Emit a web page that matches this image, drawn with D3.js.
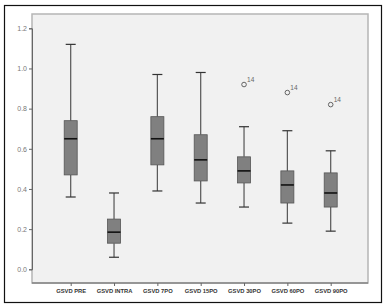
<!DOCTYPE html>
<html><head><meta charset="utf-8">
<script src="https://cdn.jsdelivr.net/npm/d3@7"></script>
<style>body{margin:0;background:#fff}svg{display:block}</style>
</head><body>
<script>
const categories = ["GSVD PRE","GSVD INTRA","GSVD 7PO","GSVD 15PO","GSVD 30PO","GSVD 60PO","GSVD 90PO"];
const whiskerMax = [1.12,0.38,0.97,0.98,0.71,0.69,0.59];
const q3 = [0.74,0.25,0.76,0.67,0.56,0.49,0.48];
const median = [0.65,0.185,0.65,0.545,0.49,0.42,0.38];
const q1 = [0.47,0.13,0.52,0.44,0.43,0.33,0.31];
const whiskerMin = [0.36,0.06,0.39,0.33,0.31,0.23,0.19];
const outliers = [{cat:"GSVD 30PO",v:0.92,label:"14"},{cat:"GSVD 60PO",v:0.88,label:"14"},{cat:"GSVD 90PO",v:0.82,label:"14"}];
const yTicks = [0,0.2,0.4,0.6,0.8,1.0,1.2];

const W=384,H=308;
const svg=d3.select("body").append("svg").attr("width",W).attr("height",H);
svg.append("rect").attr("x",4.5).attr("y",5.5).attr("width",377).attr("height",297).attr("fill","#fff").attr("stroke","#111").attr("stroke-width",1.2);
const L=32,T=14,R=368,B=283;
svg.append("rect").attr("x",L).attr("y",T).attr("width",R-L).attr("height",B-T).attr("fill","#f1f1f1").attr("stroke","#b5b5b5").attr("stroke-width",1.5);
const y=d3.scaleLinear().domain([0,1.2]).range([269.3,28.3]);
const x=d3.scalePoint().domain(categories).range([70.7,330.7]);

const yAxis=svg.append("g").attr("transform",`translate(${L},0)`)
  .call(d3.axisLeft(y).tickValues(yTicks).tickFormat(d3.format(".1f")).tickSize(3).tickPadding(2));
yAxis.select(".domain").attr("stroke","#666");
yAxis.selectAll(".tick line").attr("stroke","#666");
yAxis.selectAll("text").attr("fill","#777").style("font-family","Liberation Sans, Arial, sans-serif").style("font-size","7px");

const xAxis=svg.append("g").attr("transform",`translate(0,${B})`)
  .call(d3.axisBottom(x).tickSize(3).tickPadding(3));
xAxis.select(".domain").attr("stroke","#666").attr("d",`M${L},0H${R}`);
xAxis.selectAll(".tick line").attr("stroke","#666");
xAxis.selectAll("text").attr("fill","#333").style("font-family","Liberation Sans, Arial, sans-serif").style("font-size","5.8px").style("font-weight","bold");

const bw=13, cw=10;
const g=svg.append("g");
categories.forEach((c,i)=>{
  const cx=x(c);
  g.append("line").attr("x1",cx).attr("x2",cx).attr("y1",y(whiskerMax[i])).attr("y2",y(q3[i])).attr("stroke","#555").attr("stroke-width",1.2);
  g.append("line").attr("x1",cx).attr("x2",cx).attr("y1",y(q1[i])).attr("y2",y(whiskerMin[i])).attr("stroke","#555").attr("stroke-width",1.2);
  g.append("line").attr("x1",cx-cw/2).attr("x2",cx+cw/2).attr("y1",y(whiskerMax[i])).attr("y2",y(whiskerMax[i])).attr("stroke","#333").attr("stroke-width",1.2);
  g.append("line").attr("x1",cx-cw/2).attr("x2",cx+cw/2).attr("y1",y(whiskerMin[i])).attr("y2",y(whiskerMin[i])).attr("stroke","#333").attr("stroke-width",1.2);
  g.append("rect").attr("x",cx-bw/2).attr("y",y(q3[i])).attr("width",bw).attr("height",y(q1[i])-y(q3[i])).attr("fill","#808080").attr("stroke","#555").attr("stroke-width",0.8);
  g.append("line").attr("x1",cx-bw/2).attr("x2",cx+bw/2).attr("y1",y(median[i])).attr("y2",y(median[i])).attr("stroke","#111").attr("stroke-width",1.6);
});
outliers.forEach(o=>{
  const cx=x(o.cat);
  g.append("circle").attr("cx",cx).attr("cy",y(o.v)).attr("r",2.3).attr("fill","none").attr("stroke","#555").attr("stroke-width",0.9);
  g.append("text").attr("x",cx+3).attr("y",y(o.v)-3).text(o.label).attr("fill","#666").style("font-family","Liberation Sans, Arial, sans-serif").style("font-size","6.5px");
});
</script>
</body></html>
